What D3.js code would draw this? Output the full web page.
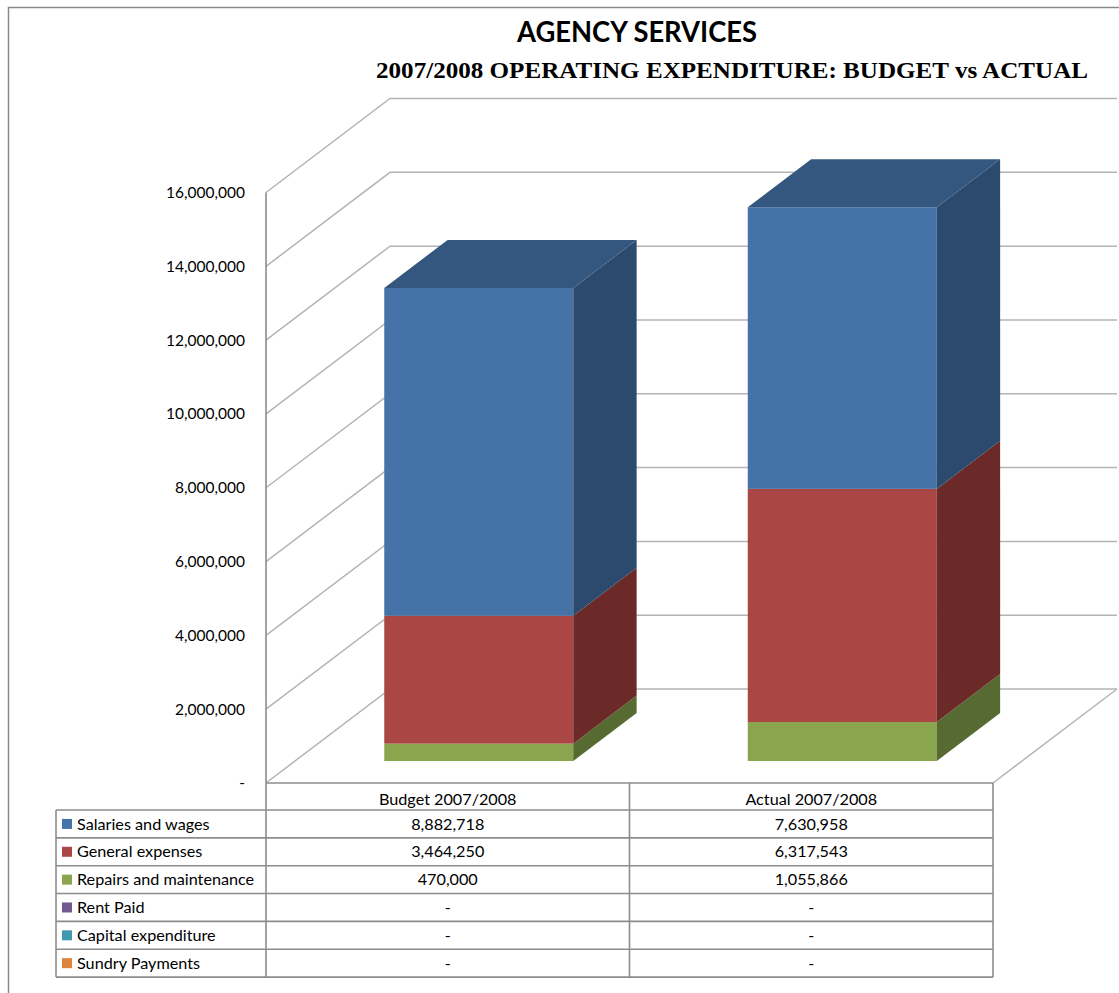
<!DOCTYPE html>
<html>
<head>
<meta charset="utf-8">
<script src="https://cdn.jsdelivr.net/npm/d3@7/dist/d3.min.js"></script>
<style>
  html, body { margin: 0; padding: 0; background: #fff; }
  svg { display: block; }
</style>
</head>
<body>
<div id="chart"></div>
<script>
// Categories (columns) and expenditure series
const categories = ["Budget 2007/2008", "Actual 2007/2008"];
const seriesNames = ["Salaries and wages", "General expenses", "Repairs and maintenance",
                     "Rent Paid", "Capital expenditure", "Sundry Payments"];
const budgetValues = [8882718, 3464250, 470000, 0, 0, 0];
const actualValues = [7630958, 6317543, 1055866, 0, 0, 0];
const yTicks = [0, 2000000, 4000000, 6000000, 8000000, 10000000, 12000000, 14000000, 16000000];

// Face colours per series: front, side, top
const frontColors = ["#4572A7", "#AA4643", "#89A54E", "#71588F", "#4198AF", "#DB843D"];
const sideColors  = ["#2C4A6D", "#6B2A28", "#566A32", "#4A3A5E", "#2A6372", "#8F5628"];
const topColors   = ["#34577F", "#83363A", "#6A803C", "#574470", "#327686", "#A86530"];

const W = 1119, H = 993;
const svg = d3.select("#chart").append("svg").attr("width", W).attr("height", H);
svg.append("rect").attr("width", W).attr("height", H).attr("fill", "#fff");

// Outer frame (left and top edges visible)
svg.append("path").attr("d", `M8.5,${H} V7.5 H${W}`)
  .attr("fill", "none").attr("stroke", "#8a8a8a").attr("stroke-width", 1.5);

// Plot geometry: front plane and depth vector of the 3D box
const x0 = 266, x1 = 993;
const depth = { dx: 124, dy: -94 };
const y = d3.scaleLinear().domain([0, 16000000]).range([783, 192.5]);
const x = d3.scaleBand().domain(categories).range([x0, x1]);

const grid = svg.append("g").attr("fill", "none").attr("stroke", "#b4b4b4").attr("stroke-width", 1.5);
// Side-wall diagonals and back-wall horizontals
yTicks.forEach(t => {
  const yy = y(t);
  grid.append("path").attr("d",
    `M${x0},${yy} L${x0 + depth.dx},${yy + depth.dy} L${x1 + depth.dx},${yy + depth.dy}`);
});
// Floor right edge
grid.append("path").attr("d",
  `M${x1},${y(0)} L${x1 + depth.dx},${y(0) + depth.dy}`);

// Y axis labels
const fmt = d3.format(",");
const labelFont = "Lato, 'Open Sans', sans-serif";
svg.append("g").selectAll("text").data(yTicks).join("text")
  .attr("x", 245).attr("y", d => y(d)).attr("dy", "0.35em")
  .attr("text-anchor", "end")
  .attr("font-family", labelFont).attr("font-size", 15.5).attr("fill", "#000")
  .text(d => d === 0 ? "-" : fmt(d));

// Stacked 3D columns
const rows = categories.map((c, i) => {
  const vals = i === 0 ? budgetValues : actualValues;
  const o = { category: c };
  seriesNames.forEach((s, j) => o[s] = vals[j]);
  return o;
});
const stackKeys = seriesNames.slice().reverse(); // first series sits on top
const stacked = d3.stack().keys(stackKeys)(rows);

const f1 = 0.234, f2 = 0.745;   // front and back depth of the columns
const barFrac = 0.52;
const bars = svg.append("g");
categories.forEach((c, ci) => {
  const bw = x.bandwidth() * barFrac;
  const bx = x(c) + (x.bandwidth() - bw) / 2 + 2;
  const fx = bx + depth.dx * f1, fyOff = depth.dy * f1;
  const ddx = depth.dx * (f2 - f1), ddy = depth.dy * (f2 - f1);
  const segs = stacked.map(layer => {
    const si = seriesNames.indexOf(layer.key);
    return { si, lo: layer[ci][0], hi: layer[ci][1] };
  }).filter(s => s.hi > s.lo);
  const g = bars.append("g");
  segs.forEach(s => {
    const yt = y(s.hi) + fyOff, yb = y(s.lo) + fyOff;
    g.append("rect").attr("x", fx).attr("y", yt).attr("width", bw).attr("height", yb - yt)
      .attr("fill", frontColors[s.si]);
    g.append("path")
      .attr("d", `M${fx + bw},${yb} L${fx + bw + ddx},${yb + ddy} L${fx + bw + ddx},${yt + ddy} L${fx + bw},${yt} Z`)
      .attr("fill", sideColors[s.si]);
  });
  const top = segs[segs.length - 1];
  const yt = y(top.hi) + fyOff;
  g.append("path")
    .attr("d", `M${fx},${yt} L${fx + bw},${yt} L${fx + bw + ddx},${yt + ddy} L${fx + ddx},${yt + ddy} Z`)
    .attr("fill", topColors[top.si]);
});

// Data table
const tbl = svg.append("g");
const headTop = 783, headBottom = 810, rowH = 27.85;
const leftX = 56;
const tableFont = 16.2;
const line = (xa, ya, xb, yb) => tbl.append("line")
  .attr("x1", xa).attr("y1", ya).attr("x2", xb).attr("y2", yb)
  .attr("stroke", "#8c8c8c").attr("stroke-width", 1.6);
const tableBottom = headBottom + rowH * seriesNames.length;
line(x0, headTop, x1, headTop);
for (let r = 0; r <= seriesNames.length; r++) {
  const yy = headBottom + rowH * r;
  line(leftX, yy, x1, yy);
}
line(leftX, headBottom, leftX, tableBottom);
[x0, x0 + x.bandwidth(), x1].forEach(xx => line(xx, headTop, xx, tableBottom));
// Front vertical axis line above the table
line(x0, y(16000000), x0, headTop);

// Header labels
tbl.selectAll("text.head").data(categories).join("text").attr("class", "head")
  .attr("x", d => x(d) + x.bandwidth() / 2).attr("y", (headTop + headBottom) / 2 + 3).attr("dy", "0.35em")
  .attr("text-anchor", "middle").attr("font-family", labelFont).attr("font-size", tableFont)
  .text(d => d);

// Series rows: key, name, values
seriesNames.forEach((s, i) => {
  const cy = headBottom + rowH * i + rowH / 2;
  tbl.append("rect").attr("x", 62).attr("y", cy - 5).attr("width", 10).attr("height", 10)
    .attr("fill", frontColors[i]);
  tbl.append("text").attr("x", 77).attr("y", cy).attr("dy", "0.35em")
    .attr("font-family", labelFont).attr("font-size", tableFont).text(s);
  categories.forEach((c, ci) => {
    const v = (ci === 0 ? budgetValues : actualValues)[i];
    tbl.append("text").attr("x", x(c) + x.bandwidth() / 2).attr("y", cy).attr("dy", "0.35em")
      .attr("text-anchor", "middle").attr("font-family", labelFont).attr("font-size", tableFont)
      .text(v === 0 ? "-" : fmt(v));
  });
});

// Titles
svg.append("text").attr("x", 637).attr("y", 42).attr("text-anchor", "middle")
  .attr("font-family", labelFont).attr("font-weight", "bold").attr("font-size", 29)
  .attr("textLength", 240).attr("lengthAdjust", "spacingAndGlyphs")
  .text("AGENCY SERVICES");
svg.append("text").attr("x", 732).attr("y", 78).attr("text-anchor", "middle")
  .attr("font-family", "'Liberation Serif', 'Times New Roman', serif").attr("font-weight", "bold")
  .attr("font-size", 23.5).attr("textLength", 712).attr("lengthAdjust", "spacingAndGlyphs")
  .text("2007/2008 OPERATING EXPENDITURE: BUDGET vs ACTUAL");
</script>
</body>
</html>
